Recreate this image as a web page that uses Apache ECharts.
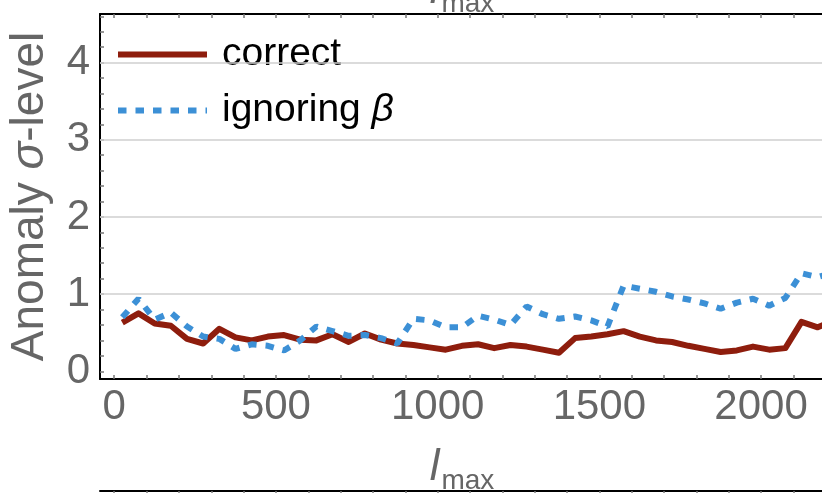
<!DOCTYPE html>
<html>
<head>
<meta charset="utf-8">
<script src="https://cdn.jsdelivr.net/npm/echarts@6/dist/echarts.min.js"></script>
<style>
  html, body { margin: 0; padding: 0; background: #fff; }
  #chart { width: 822px; height: 493px; }
</style>
</head>
<body>
<div id="chart"></div>
<script>
// multipole bins (bin centres of l_max)
const lmax = [25, 75, 125, 175, 225, 275, 325, 375, 425, 475, 525, 575, 625, 675, 725, 775,
  825, 875, 925, 975, 1025, 1075, 1125, 1175, 1225, 1275, 1325, 1375, 1425, 1475, 1525,
  1575, 1625, 1675, 1725, 1775, 1825, 1875, 1925, 1975, 2025, 2075, 2125, 2175, 2225];

// anomaly significance, full treatment
const correct = [0.63, 0.75, 0.62, 0.59, 0.42, 0.36, 0.55, 0.44, 0.40, 0.45, 0.47, 0.41, 0.40,
  0.48, 0.38, 0.49, 0.41, 0.36, 0.34, 0.31, 0.28, 0.33, 0.35, 0.30, 0.34, 0.32, 0.28, 0.24,
  0.43, 0.45, 0.48, 0.52, 0.45, 0.40, 0.38, 0.33, 0.29, 0.25, 0.27, 0.32, 0.28, 0.30, 0.64,
  0.57, 0.66];

// anomaly significance when the boost (beta) is left out
const ignoringBeta = [0.70, 0.94, 0.67, 0.76, 0.58, 0.45, 0.42, 0.29, 0.35, 0.33, 0.27, 0.40,
  0.58, 0.52, 0.46, 0.47, 0.43, 0.36, 0.68, 0.66, 0.57, 0.57, 0.72, 0.67, 0.60, 0.84, 0.74,
  0.68, 0.71, 0.66, 0.58, 1.11, 1.07, 1.03, 0.97, 0.93, 0.88, 0.81, 0.89, 0.94, 0.85, 0.95,
  1.27, 1.22, 1.28];

const xLabelTicks = [0, 500, 1000, 1500, 2000];
const xMinorTicks = [0, 100, 200, 300, 400, 500, 600, 700, 800, 900, 1000, 1100, 1200, 1300,
  1400, 1500, 1600, 1700, 1800, 1900, 2000, 2100, 2200];
const yLabelTicks = [0, 1, 2, 3, 4];
const yMinorTicks = [0, 0.2, 0.4, 0.6, 0.8, 1, 1.2, 1.4, 1.6, 1.8, 2, 2.2, 2.4, 2.6, 2.8, 3,
  3.2, 3.4, 3.6, 3.8, 4, 4.2, 4.4, 4.6];
const gridLevels = [1, 2, 3, 4];

const FONT = '"Liberation Sans", Arial, sans-serif';
const GREY = '#666666';
const X_MIN = -44, X_MAX = 2244;

const pair = (vals) => lmax.map((l, i) => [l, vals[i]]);
const plain = (v) => String(v);

const lmaxName = '{l|l}{s|max}';
const lmaxRich = {
  l: { fontFamily: FONT, fontStyle: 'italic', fontSize: 44, color: GREY },
  s: { fontFamily: FONT, fontSize: 28, color: GREY, verticalAlign: 'bottom', padding: [26, 16, 0, 2] }
};

function frameAxis(extra) {
  return Object.assign({
    type: 'value', min: X_MIN, max: X_MAX,
    axisLine: { show: true, onZero: false, lineStyle: { color: '#000', width: 2 } },
    axisTick: { show: true, inside: true, length: 4, customValues: xMinorTicks,
      lineStyle: { color: '#777', width: 1.5 } },
    axisLabel: { show: false },
    splitLine: { show: false }
  }, extra);
}

const chart = echarts.init(document.getElementById('chart'), null, { renderer: 'canvas' });

chart.setOption({
  animation: false,
  backgroundColor: '#fff',
  grid: [
    { left: 100, right: -18, top: 14, bottom: 114, outerBoundsMode: 'none', containLabel: false },
    { left: 100, right: -18, top: 491, height: 300, outerBoundsMode: 'none', containLabel: false },
    { left: 100, right: -18, top: -400, height: 302, outerBoundsMode: 'none', containLabel: false }
  ],
  legend: {
    orient: 'vertical', left: 110, top: 30,
    itemWidth: 89, itemHeight: 12, itemGap: 17,
    lineStyle: { width: 6 },
    itemStyle: { opacity: 0 },
    textStyle: {
      fontFamily: FONT, fontSize: 39, color: '#000', padding: [0, 0, 0, 10],
      rich: {
        n: { fontFamily: FONT, fontSize: 39, color: '#000' },
        i: { fontFamily: FONT, fontSize: 39, color: '#000', fontStyle: 'italic' }
      }
    },
    formatter: (name) => name === 'ignoring β' ? '{n|ignoring }{i|β}' : '{n|' + name + '}',
    data: ['correct', 'ignoring β']
  },
  xAxis: [
    frameAxis({
      gridIndex: 0, position: 'bottom',
      axisLabel: { show: true, customValues: xLabelTicks, formatter: plain, fontFamily: FONT,
        fontSize: 42, color: GREY, margin: 7 },
      name: lmaxName, nameLocation: 'middle', nameGap: 62,
      nameTextStyle: { rich: lmaxRich }
    }),
    frameAxis({ gridIndex: 0, position: 'top' }),
    frameAxis({ gridIndex: 1, position: 'top' }),
    frameAxis({
      gridIndex: 2, position: 'bottom',
      axisLine: { show: false, onZero: false }, axisTick: { show: false },
      name: lmaxName, nameLocation: 'middle', nameGap: 62,
      nameTextStyle: { rich: lmaxRich }
    })
  ],
  yAxis: [
    {
      gridIndex: 0, type: 'value', min: -0.1, max: 4.63,
      axisLine: { show: true, onZero: false, lineStyle: { color: '#000', width: 2 } },
      axisTick: { show: true, inside: true, length: 4, customValues: yMinorTicks,
        lineStyle: { color: '#777', width: 1.5 } },
      axisLabel: { customValues: yLabelTicks, formatter: plain, fontFamily: FONT, fontSize: 42,
        color: GREY, margin: 10 },
      splitLine: { show: false },
      name: 'Anomaly {i|σ}-level', nameLocation: 'middle', nameRotate: 90, nameGap: 47,
      nameTextStyle: {
        fontFamily: FONT, fontSize: 46, color: GREY,
        rich: { i: { fontFamily: FONT, fontSize: 46, color: GREY, fontStyle: 'italic' } }
      }
    },
    { gridIndex: 1, type: 'value', min: 0, max: 1, show: false },
    { gridIndex: 2, type: 'value', min: 0, max: 1, show: false }
  ],
  series: [
    {
      name: 'correct', type: 'line', xAxisIndex: 0, yAxisIndex: 0, z: 10,
      symbol: 'none', showSymbol: false,
      data: pair(correct),
      lineStyle: { color: '#8E1D0D', width: 6, join: 'round' },
      itemStyle: { color: '#8E1D0D' },
      markLine: {
        silent: true, symbol: 'none', label: { show: false },
        lineStyle: { color: '#cfcfcf', width: 1.5, type: 'solid' },
        data: gridLevels.map(v => ({ yAxis: v }))
      }
    },
    {
      name: 'ignoring β', type: 'line', xAxisIndex: 0, yAxisIndex: 0, z: 11,
      symbol: 'none', showSymbol: false,
      data: pair(ignoringBeta),
      lineStyle: { color: '#3C90D6', width: 6, type: [8.5, 9], cap: 'butt' },
      itemStyle: { color: '#3C90D6' }
    }
  ]
});
</script>
</body>
</html>
